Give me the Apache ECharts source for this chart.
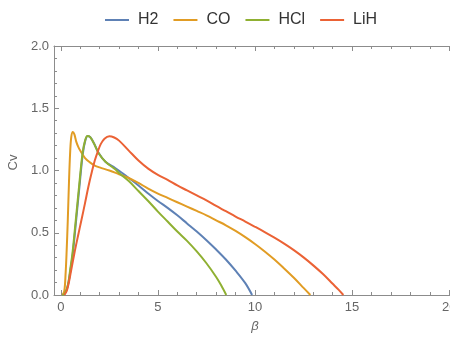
<!DOCTYPE html>
<html>
<head>
<meta charset="utf-8">
<script src="https://cdn.jsdelivr.net/npm/echarts@6/dist/echarts.min.js"></script>
<style>
  html, body { margin: 0; padding: 0; background: #fff; }
  #chart { width: 450px; height: 340px; }
</style>
</head>
<body>
<div id="chart"></div>
<script>
// Heat capacity Cv against beta for four diatomic molecules: [beta, Cv]
const seriesNames = ['H2', 'CO', 'HCl', 'LiH'];

const h2 = [
  [0.08, 0], [0.2, 0.01], [0.32, 0.05], [0.41, 0.11], [0.5, 0.2], [0.62, 0.335],
  [0.79, 0.6], [0.96, 0.87], [1.13, 1.13], [1.26, 1.24], [1.39, 1.278], [1.52, 1.268],
  [1.72, 1.215], [1.95, 1.14], [2.3, 1.07], [2.8, 1.02], [3.2, 0.975], [3.5, 0.94],
  [4.0, 0.88], [4.5, 0.815], [5.0, 0.755], [5.5, 0.70], [6.0, 0.64], [6.5, 0.575],
  [7.0, 0.51], [7.5, 0.44], [8.0, 0.365], [8.5, 0.285], [9.0, 0.195], [9.5, 0.095],
  [9.85, 0]
];

const co = [
  [0.08, 0], [0.18, 0.03], [0.25, 0.18], [0.3, 0.35], [0.36, 0.6], [0.42, 0.9],
  [0.48, 1.14], [0.54, 1.27], [0.62, 1.31], [0.7, 1.29], [0.8, 1.23], [0.9, 1.19],
  [1.0, 1.16], [1.25, 1.10], [1.5, 1.065], [1.75, 1.04], [2.0, 1.025], [2.5, 1.0],
  [3.0, 0.97], [3.5, 0.94], [4.0, 0.90], [4.5, 0.855], [5.0, 0.815], [5.5, 0.78],
  [6.0, 0.745], [6.5, 0.71], [7.0, 0.675], [7.5, 0.64], [8.0, 0.60], [8.5, 0.56],
  [9.0, 0.515], [9.5, 0.465], [10.0, 0.41], [10.5, 0.35], [11.0, 0.285], [11.5, 0.213],
  [12.0, 0.138], [12.5, 0.057], [12.85, 0]
];

const hcl = [
  [0.08, 0], [0.2, 0.01], [0.31, 0.05], [0.4, 0.11], [0.48, 0.2], [0.6, 0.335],
  [0.77, 0.6], [0.94, 0.87], [1.12, 1.14], [1.25, 1.24], [1.37, 1.277], [1.5, 1.27],
  [1.7, 1.22], [1.94, 1.14], [2.3, 1.07], [2.8, 1.01], [3.0, 0.98], [3.5, 0.915],
  [4.0, 0.835], [4.5, 0.755], [5.0, 0.67], [5.5, 0.59], [6.0, 0.51], [6.5, 0.435],
  [7.0, 0.35], [7.5, 0.255], [8.0, 0.145], [8.25, 0.08], [8.52, 0]
];

const lih = [
  [0.18, 0], [0.3, 0.03], [0.4, 0.09], [0.5, 0.17], [0.7, 0.335], [0.88, 0.47],
  [1.06, 0.60], [1.25, 0.74], [1.42, 0.87], [1.6, 0.99], [1.75, 1.08], [1.9, 1.15],
  [2.05, 1.21], [2.25, 1.255], [2.5, 1.275], [2.75, 1.265], [3.0, 1.24], [3.5, 1.16],
  [4.0, 1.08], [4.5, 1.015], [5.0, 0.965], [5.5, 0.925], [6.0, 0.88], [6.5, 0.84],
  [7.0, 0.80], [7.5, 0.76], [8.0, 0.715], [8.5, 0.673], [9.0, 0.63], [9.5, 0.59],
  [10.0, 0.548], [10.5, 0.505], [11.0, 0.46], [11.5, 0.412], [12.0, 0.36], [12.5, 0.302],
  [13.0, 0.238], [13.5, 0.168], [14.0, 0.09], [14.3, 0.043], [14.55, 0]
];

// Axis ranges: the frame is padded slightly beyond the labelled beta range
const X_MIN = -0.35, X_MAX = 20.35;
const BETA_MIN = 0, BETA_MAX = 20, BETA_STEP = 5;
const CV_MIN = 0, CV_MAX = 2, CV_STEP = 0.5;

const colors = ['#5E81B5', '#E19C24', '#8FB032', '#EB6235'];
const frameColor = '#8c8c8c';
const labelColor = '#666';
const fontFamily = 'Liberation Sans, Arial, sans-serif';

// Frame box geometry and the inner box that spans beta 0..20
const frameLeft = 54, frameRight = 456, frameTop = 46, frameBottom = 45;
const frameWidth = frameRight - frameLeft;
const innerLeft = frameLeft + (BETA_MIN - X_MIN) / (X_MAX - X_MIN) * frameWidth;
const innerWidth = (BETA_MAX - BETA_MIN) / (X_MAX - X_MIN) * frameWidth;

const hidden = { show: false };

function betaAxis(position, withLabels) {
  return {
    type: 'value', gridIndex: 1, position: position,
    min: BETA_MIN, max: BETA_MAX, interval: BETA_STEP,
    axisLine: { show: false, onZero: false },
    axisTick: { show: true, inside: true, length: 5, lineStyle: { color: frameColor, width: 1 } },
    minorTick: { show: true, splitNumber: 5, length: 3, lineStyle: { color: frameColor, width: 1 } },
    axisLabel: withLabels
      ? { show: true, color: labelColor, fontSize: 13, fontFamily: fontFamily, margin: 6 }
      : { show: false },
    splitLine: hidden, minorSplitLine: hidden
  };
}

function frameXAxis(position, withName) {
  const a = {
    type: 'value', gridIndex: 0, position: position, min: X_MIN, max: X_MAX,
    axisLine: { show: true, onZero: false, lineStyle: { color: frameColor, width: 1 } },
    axisTick: hidden, axisLabel: hidden, splitLine: hidden
  };
  if (withName) {
    a.name = 'β';
    a.nameLocation = 'middle';
    a.nameGap = 25;
    a.nameTextStyle = { color: labelColor, fontSize: 13, fontStyle: 'italic', fontFamily: fontFamily };
  }
  return a;
}

const dataSets = [h2, co, hcl, lih];

const chart = echarts.init(document.getElementById('chart'), null, { renderer: 'canvas' });
chart.setOption({
  animation: false,
  color: colors,
  legend: {
    left: 100, top: 7,
    itemWidth: 24, itemHeight: 2, itemGap: 15,
    icon: 'rect',
    textStyle: { fontSize: 16, color: '#333', padding: [0, 0, 0, 4], fontFamily: fontFamily },
    data: seriesNames
  },
  grid: [
    { left: frameLeft, width: frameWidth, top: frameTop, bottom: frameBottom, outerBoundsMode: 'none' },
    { left: innerLeft, width: innerWidth, top: frameTop, bottom: frameBottom, outerBoundsMode: 'none' }
  ],
  xAxis: [
    frameXAxis('bottom', true),
    frameXAxis('top', false),
    betaAxis('bottom', true),
    betaAxis('top', false)
  ],
  yAxis: [
    {
      type: 'value', gridIndex: 0, position: 'left',
      min: CV_MIN, max: CV_MAX, interval: CV_STEP,
      name: 'Cv', nameLocation: 'middle', nameGap: 33,
      nameTextStyle: { color: labelColor, fontSize: 13, padding: [0, 0, 0, 16], fontFamily: fontFamily },
      axisLine: { show: true, onZero: false, lineStyle: { color: frameColor, width: 1 } },
      axisTick: { show: true, inside: true, length: 5, lineStyle: { color: frameColor, width: 1 } },
      minorTick: { show: true, splitNumber: 5, length: 3, lineStyle: { color: frameColor, width: 1 } },
      axisLabel: { color: labelColor, fontSize: 13, margin: 5, fontFamily: fontFamily,
                   formatter: v => v.toFixed(1) },
      splitLine: hidden, minorSplitLine: hidden
    },
    {
      type: 'value', gridIndex: 1, position: 'left', min: CV_MIN, max: CV_MAX,
      axisLine: { show: false, onZero: false }, axisTick: hidden, axisLabel: hidden,
      splitLine: hidden
    }
  ],
  series: seriesNames.map((name, i) => ({
    name: name,
    type: 'line',
    xAxisIndex: 2, yAxisIndex: 1,
    data: dataSets[i],
    showSymbol: false,
    smooth: 0.35,
    lineStyle: { width: 2, color: colors[i] },
    itemStyle: { color: colors[i] }
  }))
});
</script>
</body>
</html>
